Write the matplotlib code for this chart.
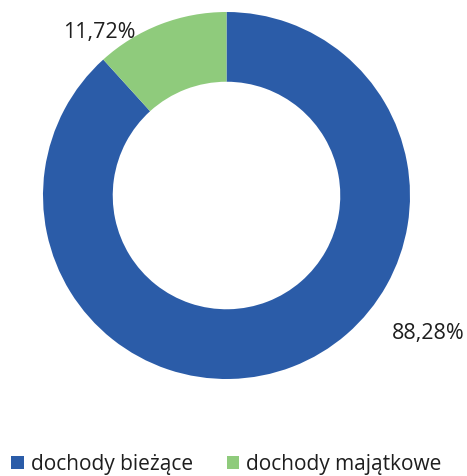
import matplotlib
matplotlib.use('Agg')
import matplotlib.pyplot as plt

plt.rcParams['font.family'] = ['Open Sans', 'DejaVu Sans']

categories = ['dochody bieżące', 'dochody majątkowe']
shares = [88.28, 11.72]
colors = ['#2b5ca8', '#8fcb7c']
# where each percentage label sits (data coords of the pie axes)
label_pos = [(1.10, -0.745), (-0.695, 0.895)]

fig = plt.figure(figsize=(4.67, 4.77), dpi=100)
ax = fig.add_axes([43/467, 1 - 380/477, 367/467, 367/477])
wedges, _ = ax.pie(shares, colors=colors, startangle=90, counterclock=False,
                   radius=1.0, wedgeprops=dict(width=0.38, linewidth=0))
ax.set_xlim(-1, 1)
ax.set_ylim(-1, 1)
ax.set_aspect('equal')
ax.axis('off')

for v, (x, y) in zip(shares, label_pos):
    ax.text(x, y, '{:.2f}%'.format(v).replace('.', ','), ha='center', va='center',
            fontsize=15.5, color='#1e1e1e', clip_on=False)

fig.legend(wedges, categories, loc='center', bbox_to_anchor=(0.485, 1 - 465/477),
           ncol=2, frameon=False, fontsize=15, handlelength=0.6, handleheight=0.6,
           handletextpad=0.35, columnspacing=1.6, labelcolor='#1e1e1e')

fig.savefig('out.png', dpi=100)
